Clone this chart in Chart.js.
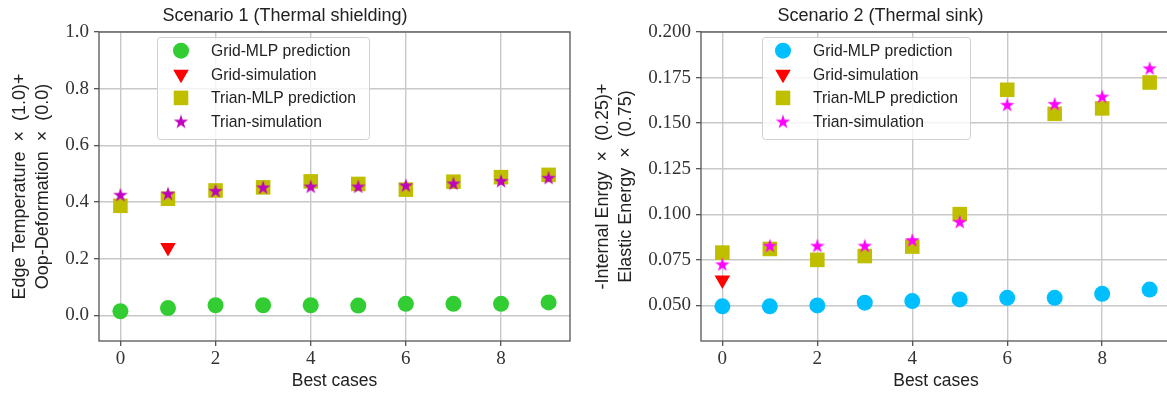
<!DOCTYPE html>
<html>
<head>
<meta charset="utf-8">
<script src="https://cdn.jsdelivr.net/npm/chart.js"></script>
<style>
  html, body { margin: 0; padding: 0; background: #fff; overflow: hidden; }
  #wrap { position: relative; width: 1167px; height: 393px; overflow: hidden; }
  .panel { position: absolute; top: 0; height: 393px; }
  #p1 { left: 0; width: 590px; }
  #p2 { left: 590px; width: 600px; }
</style>
</head>
<body>
<div id="wrap">
  <div class="panel" id="p1"><canvas id="c1" width="590" height="393"></canvas></div>
  <div class="panel" id="p2"><canvas id="c2" width="600" height="393"></canvas></div>
</div>
<script>
const cases = [0, 1, 2, 3, 4, 5, 6, 7, 8, 9];
const xTicks = [0, 2, 4, 6, 8];
const seriesLabels = ['Grid-MLP prediction', 'Grid-simulation', 'Trian-MLP prediction', 'Trian-simulation'];

// Scenario 1 (Thermal shielding)
const s1GridMlp  = [0.015, 0.026, 0.036, 0.036, 0.036, 0.035, 0.041, 0.041, 0.041, 0.046];
const s1GridSim  = [null, 0.24, null, null, null, null, null, null, null, null];
const s1TrianMlp = [0.387, 0.412, 0.441, 0.452, 0.473, 0.464, 0.444, 0.472, 0.488, 0.496];
const s1TrianSim = [0.426, 0.430, 0.440, 0.452, 0.455, 0.455, 0.459, 0.466, 0.475, 0.486];
const s1YTicks = [0.0, 0.2, 0.4, 0.6, 0.8, 1.0];

// Scenario 2 (Thermal sink)
const s2GridMlp  = [0.0495, 0.0495, 0.0500, 0.0515, 0.0524, 0.0533, 0.0542, 0.0542, 0.0564, 0.0587];
const s2GridSim  = [0.064, null, null, null, null, null, null, null, null, null];
const s2TrianMlp = [0.0790, 0.0810, 0.0750, 0.0771, 0.0823, 0.1001, 0.1683, 0.1551, 0.1581, 0.1723];
const s2TrianSim = [0.0726, 0.0828, 0.0828, 0.0828, 0.0859, 0.0959, 0.1601, 0.1606, 0.1646, 0.1801];
const s2YTicks = [0.050, 0.075, 0.100, 0.125, 0.150, 0.175, 0.200];

const SANS = "'Liberation Sans', Arial, sans-serif";
const SERIF = "'Liberation Serif', 'Times New Roman', serif";

function starImage(color) {
  const c = document.createElement('canvas');
  c.width = 18; c.height = 18;
  const g = c.getContext('2d');
  const R = 7.6, r = R * 0.382;
  g.beginPath();
  for (let k = 0; k < 10; k++) {
    const a = -Math.PI / 2 + k * Math.PI / 5;
    const rad = k % 2 ? r : R;
    const px = 9 + rad * Math.cos(a), py = 9.6 + rad * Math.sin(a);
    k ? g.lineTo(px, py) : g.moveTo(px, py);
  }
  g.closePath();
  g.fillStyle = color;
  g.fill();
  return c;
}

function pts(ys) {
  return cases.map((x, i) => ({ x, y: ys[i] }));
}

// legend marker, same shapes as the points
function drawMarker(ctx, ds, x, y) {
  ctx.fillStyle = ds.backgroundColor;
  if (ds.kind === 'star') {
    const img = ds.pointStyle;
    ctx.drawImage(img, x - img.width / 2, y - img.height / 2);
    return;
  }
  ctx.beginPath();
  if (ds.kind === 'circle') {
    ctx.arc(x, y, ds.pointRadius, 0, Math.PI * 2);
  } else if (ds.kind === 'square') {
    const h = ds.pointRadius * Math.SQRT1_2;
    ctx.rect(x - h, y - h, 2 * h, 2 * h);
  } else if (ds.kind === 'tri') {
    const r = ds.pointRadius;
    ctx.moveTo(x, y + r);
    ctx.lineTo(x - r * Math.sin(Math.PI / 3), y - r / 2);
    ctx.lineTo(x + r * Math.sin(Math.PI / 3), y - r / 2);
    ctx.closePath();
  }
  ctx.fill();
}

const boxLegend = {
  id: 'boxLegend',
  afterDraw(chart, args, o) {
    const { ctx, chartArea } = chart;
    const x0 = chartArea.left + o.dx, y0 = chartArea.top + o.dy;
    ctx.save();
    ctx.beginPath();
    ctx.roundRect(x0 + 0.5, y0 + 0.5, o.w, o.h, 3);
    ctx.fillStyle = 'rgba(255,255,255,0.8)';
    ctx.fill();
    ctx.strokeStyle = 'rgba(204,204,204,0.9)';
    ctx.lineWidth = 1;
    ctx.stroke();
    chart.data.datasets.forEach((ds, i) => {
      const y = y0 + o.firstRow + i * o.rowGap;
      drawMarker(ctx, ds, x0 + o.markerX, y);
      ctx.fillStyle = '#222';
      ctx.font = '15.7px ' + SANS;
      ctx.textBaseline = 'middle';
      ctx.fillText(ds.label, x0 + o.textX, y + 1);
    });
    ctx.restore();
  }
};

const frame = {
  id: 'frame',
  afterDatasetsDraw(chart) {
    const { ctx, chartArea: a } = chart;
    ctx.save();
    ctx.strokeStyle = '#555';
    ctx.lineWidth = 1.3;
    ctx.strokeRect(a.left, a.top, a.right - a.left, a.bottom - a.top);
    ctx.restore();
  }
};

function makeChart(id, cfg) {
  const datasets = [
    { label: seriesLabels[0], data: pts(cfg.gridMlp), kind: 'circle', pointStyle: 'circle', pointRadius: 8,
      backgroundColor: cfg.colors[0], borderColor: cfg.colors[0], borderWidth: 0, order: 3 },
    { label: seriesLabels[1], data: pts(cfg.gridSim), kind: 'tri', pointStyle: 'triangle', rotation: 180, pointRadius: 9,
      backgroundColor: cfg.colors[1], borderColor: cfg.colors[1], borderWidth: 0, order: 2 },
    { label: seriesLabels[2], data: pts(cfg.trianMlp), kind: 'square', pointStyle: 'rect', pointRadius: 10.3,
      backgroundColor: cfg.colors[2], borderColor: cfg.colors[2], borderWidth: 0, order: 1 },
    { label: seriesLabels[3], data: pts(cfg.trianSim), kind: 'star', pointStyle: starImage(cfg.colors[3]), pointRadius: 7,
      backgroundColor: cfg.colors[3], borderColor: cfg.colors[3], borderWidth: 0, order: 0 },
  ];

  return new Chart(document.getElementById(id), {
    type: 'scatter',
    data: { datasets },
    options: {
      responsive: false,
      animation: false,
      layout: { padding: { left: 0, right: cfg.padRight, top: 0, bottom: 0 } },
      plugins: {
        legend: { display: false },
        tooltip: { enabled: false },
        title: {
          display: true, text: cfg.title, color: '#222',
          font: { family: SANS, size: 18, weight: 'normal' },
          padding: { top: 5, bottom: 5.4 }
        },
        boxLegend: cfg.legend,
      },
      scales: {
        x: {
          type: 'linear', min: -0.45, max: 9.45,
          afterBuildTicks: s => { s.ticks = xTicks.map(v => ({ value: v })); },
          afterFit: s => { s.height = 52; },
          ticks: { color: '#333', padding: 2, font: { family: SERIF, size: 19 } },
          grid: { color: '#c8c8c8', lineWidth: 1.4, tickColor: '#444', tickLength: 5, tickWidth: 1.2 },
          border: { display: false },
          title: {
            display: true, text: 'Best cases', color: '#222',
            font: { family: SANS, size: 17.5 }, padding: { top: 0, bottom: 1.5 }
          }
        },
        y: {
          type: 'linear', min: cfg.yMin, max: cfg.yMax,
          afterBuildTicks: s => { s.ticks = cfg.yTicks.map(v => ({ value: v })); },
          afterFit: s => { s.width = cfg.yWidth; },
          ticks: { color: '#333', padding: 5, font: { family: SERIF, size: 19 },
                   callback: v => v.toFixed(cfg.decimals) },
          grid: { color: '#c8c8c8', lineWidth: 1.4, tickColor: '#444', tickLength: 5, tickWidth: 1.2 },
          border: { display: false },
          title: {
            display: true, text: cfg.yTitle, color: '#222',
            font: { family: SANS, size: 18, lineHeight: 1.28 }, padding: { top: cfg.yTitlePad, bottom: 0 }
          }
        }
      }
    },
    plugins: [frame, boxLegend]
  });
}

makeChart('c1', {
  title: 'Scenario 1 (Thermal shielding)',
  yTitle: ['Edge Temperature  \u00d7  (1.0)+', 'Oop-Deformation  \u00d7  (0.0)'],
  gridMlp: s1GridMlp, gridSim: s1GridSim, trianMlp: s1TrianMlp, trianSim: s1TrianSim,
  colors: ['#32cd32', '#ff0000', '#bfbf00', '#bf00bf'],
  yMin: -0.09, yMax: 1.0, yTicks: s1YTicks, decimals: 1,
  yWidth: 99, yTitlePad: 8.5, padRight: 20,
  legend: { dx: 58, dy: 5, w: 212, h: 102, markerX: 24, textX: 54, firstRow: 13.7, rowGap: 23.6 }
});

makeChart('c2', {
  title: 'Scenario 2 (Thermal sink)',
  yTitle: ['-Internal Enrgy  \u00d7  (0.25)+', 'Elastic Energy  \u00d7  (0.75)'],
  gridMlp: s2GridMlp, gridSim: s2GridSim, trianMlp: s2TrianMlp, trianSim: s2TrianSim,
  colors: ['#00bfff', '#ff0000', '#bfbf00', '#ff00ff'],
  yMin: 0.0305, yMax: 0.2, yTicks: s2YTicks, decimals: 3,
  yWidth: 111, yTitlePad: 1.5, padRight: 19,
  legend: { dx: 61, dy: 5, w: 208, h: 102, markerX: 21, textX: 51, firstRow: 13.7, rowGap: 23.6 }
});
</script>
</body>
</html>
